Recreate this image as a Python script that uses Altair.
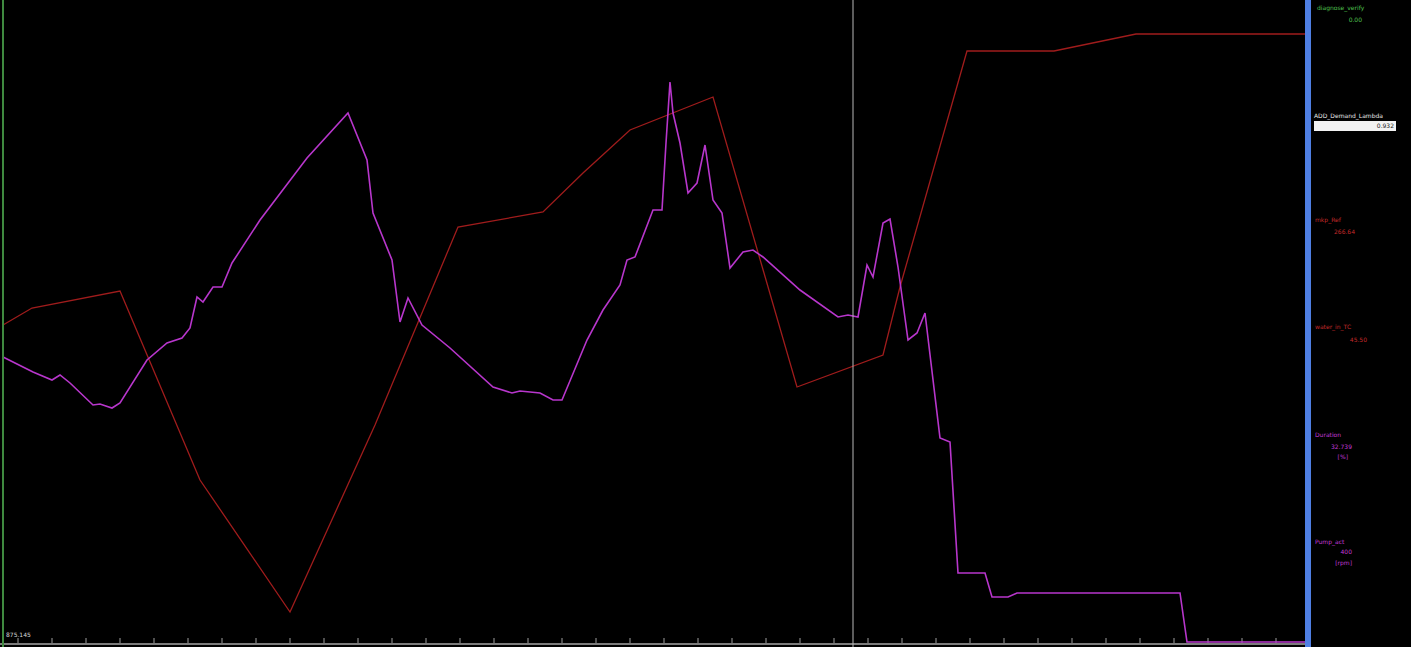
import altair as alt
import pandas as pd

# Sample positions along the time axis and readings for the two traces
red_t = [3, 32, 120, 200, 290, 375, 458, 543, 583, 630, 713, 797, 883, 900, 967, 1054, 1136, 1305]
red_v = [318, 335, 352, 163, 31, 218, 416, 431, 470, 513, 546, 256, 288, 356, 592, 592, 609, 609]

mag_t = [3, 33, 52, 60, 70, 93, 100, 112, 120, 147, 167, 182, 190, 197, 203, 213, 222, 232, 260,
         307, 348, 367, 373, 392, 400, 408, 422, 450, 493, 512, 520, 540, 553, 562, 587, 603, 620,
         627, 635, 653, 662, 666, 670, 673, 680, 688, 697, 705, 713, 722, 730, 743, 753, 763, 800,
         838, 848, 858, 867, 873, 883, 890, 898, 908, 917, 925, 940, 950, 958, 985, 992, 1008, 1017,
         1180, 1187, 1305]
mag_v = [286, 271, 263, 268, 260, 238, 239, 235, 240, 283, 300, 305, 315, 346, 341, 356, 356, 380, 423,
         485, 530, 483, 430, 383, 321, 345, 318, 295, 256, 250, 252, 250, 243, 243, 303, 333, 358,
         383, 386, 433, 433, 500, 561, 530, 500, 450, 460, 498, 443, 430, 375, 391, 393, 386, 353,
         326, 328, 326, 378, 366, 420, 424, 376, 303, 310, 330, 205, 201, 70, 70, 46, 46, 50,
         50, 1, 1]

cursor_t = [853]
tick_vals = [18, 52, 86, 120, 154, 188, 222, 256, 290, 324, 358, 392, 426, 460, 494, 528, 562,
             596, 630, 664, 698, 732, 766, 800, 834, 868, 902, 936, 970, 1004, 1038, 1072, 1106,
             1140, 1174, 1208, 1242, 1276]

# Channel list shown in the right-hand panel
panel_names = ["diagnose_verify", "ADD_Demand_Lambda", "mkp_Ref", "water_in_TC", "Duration", "Pump_act"]
panel_values = ["0.00", "0.932", "266.64", "45.50", "32.739", "400"]
panel_units = ["", "", "", "", "[%]", "[rpm]"]

W, H = 1411, 647
xs = alt.Scale(domain=[0, W], nice=False, zero=False)
ys = alt.Scale(domain=[-4, H - 4], nice=False, zero=False)

red_df = pd.DataFrame({"t": red_t, "v": red_v})
mag_df = pd.DataFrame({"t": mag_t, "v": mag_v})
cur_df = pd.DataFrame({"t": cursor_t})
tick_df = pd.DataFrame({"t": tick_vals})

X = alt.X("t:Q", scale=xs, axis=None)
Y = alt.Y("v:Q", scale=ys, axis=None)

red_line = alt.Chart(red_df).mark_line(color="#a01c1c", strokeWidth=1.3, clip=True).encode(x=X, y=Y)
mag_line = alt.Chart(mag_df).mark_line(color="#b836cc", strokeWidth=1.6, clip=True).encode(x=X, y=Y)

cursor = alt.Chart(cur_df).mark_rule(color="#b8b8b8", strokeWidth=1).encode(
    x=X, y=alt.value(0), y2=alt.value(H)
)
# Time axis: baseline along the bottom with small tick marks
base_line = alt.Chart(cur_df).mark_rule(color="#7c7c7c", strokeWidth=2).encode(
    x=alt.value(0), x2=alt.value(1305), y=alt.value(644)
)
ticks = alt.Chart(tick_df).mark_rule(color="#6a6a6a", strokeWidth=1.5).encode(
    x=X, y=alt.value(638), y2=alt.value(643)
)
left_edge = alt.Chart(cur_df).mark_rule(color="#3f8a3f", strokeWidth=2).encode(
    x=alt.value(3), y=alt.value(0), y2=alt.value(H)
)
blue_bar = alt.Chart(cur_df).mark_rect(color="#4f7fe3").encode(
    x=alt.value(1305), x2=alt.value(1311), y=alt.value(0), y2=alt.value(H)
)
value_box = alt.Chart(cur_df).mark_rect(color="#f2f2f2").encode(
    x=alt.value(1314), x2=alt.value(1396), y=alt.value(121), y2=alt.value(131)
)

font = "DejaVu Sans"


def label(text, x, y, color, align="left", size=6):
    return alt.Chart(cur_df).mark_text(
        text=text, color=color, align=align, baseline="middle", font=font, fontSize=size
    ).encode(x=alt.value(x), y=alt.value(y))


labels = [
    label(panel_names[0], 1317, 8, "#4fc04f"),
    label(panel_values[0], 1362, 20, "#4fc04f", "right"),
    label(panel_names[1], 1314, 116, "#e8e8e8"),
    label(panel_values[1], 1394, 126, "#222222", "right"),
    label(panel_names[2], 1315, 220, "#c42a2a"),
    label(panel_values[2], 1355, 232, "#c42a2a", "right"),
    label(panel_names[3], 1315, 327, "#c42a2a"),
    label(panel_values[3], 1367, 340, "#c42a2a", "right"),
    label(panel_names[4], 1315, 435, "#c03ad6"),
    label(panel_values[4], 1352, 447, "#c03ad6", "right"),
    label(panel_units[4], 1348, 457, "#c03ad6", "right"),
    label(panel_names[5], 1315, 542, "#c03ad6"),
    label(panel_values[5], 1352, 552, "#c03ad6", "right"),
    label(panel_units[5], 1352, 563, "#c03ad6", "right"),
    label("875.145", 6, 635, "#d8d8d8"),
]

chart = alt.layer(
    ticks, base_line, red_line, mag_line, cursor, left_edge, blue_bar, value_box, *labels
).properties(
    width=W, height=H, padding=0, autosize=alt.AutoSizeParams(type="none"),
    background="#000000"
).configure_view(stroke=None, fill="#000000")

chart.save("out.html", embed_options={"renderer": "svg", "actions": False})
